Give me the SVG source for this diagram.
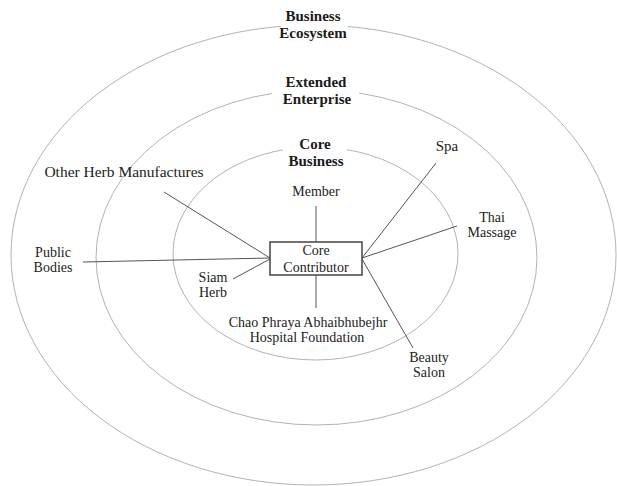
<svg xmlns="http://www.w3.org/2000/svg" width="617" height="486" viewBox="0 0 617 486">
<style>
.ring{fill:none;stroke:#a9a9a9;stroke-width:0.9}
.bg{fill:#fff;stroke:none}
.title{font-family:"Liberation Serif","Times New Roman",serif;font-weight:bold;font-size:15px;fill:#1a1a1a;text-anchor:middle}
.lbl{font-family:"Liberation Serif","Times New Roman",serif;font-size:14px;fill:#222;text-anchor:middle}
.big{font-size:15.5px}
.conn line{stroke:#555;stroke-width:1}
.box{fill:#fff;stroke:#444;stroke-width:1.5}
</style>
<rect width="617" height="486" fill="#fff"/>
<g id="rings">
<ellipse class="ring" cx="313.5" cy="255" rx="302.5" ry="230"/>
<ellipse class="ring" cx="316.5" cy="257.5" rx="220.5" ry="167.5"/>
<ellipse class="ring" cx="315.5" cy="253.5" rx="142.5" ry="106.5"/>
</g>
<g id="ring-titles">
<g id="business-ecosystem">
<rect class="bg" x="281" y="6" width="67" height="36"/>
<text class="title" x="313" y="21">Business</text>
<text class="title" x="313" y="38">Ecosystem</text>
</g>
<g id="extended-enterprise">
<rect class="bg" x="272" y="72" width="87" height="36"/>
<text class="title" x="316" y="87">Extended</text>
<text class="title" x="317" y="104">Enterprise</text>
</g>
<g id="core-business">
<rect class="bg" x="283" y="134" width="64" height="36"/>
<text class="title" x="315" y="149">Core</text>
<text class="title" x="316" y="166">Business</text>
</g>
</g>
<g id="connectors" class="conn">
<line x1="316" y1="206" x2="316" y2="242"/>
<line x1="316" y1="275" x2="316" y2="308"/>
<line x1="164" y1="192" x2="270" y2="258"/>
<line x1="83" y1="262" x2="270" y2="258"/>
<line x1="233" y1="279" x2="270" y2="259"/>
<line x1="436" y1="163" x2="362" y2="258"/>
<line x1="457" y1="226" x2="362" y2="258"/>
<line x1="413" y1="348" x2="362" y2="259"/>
</g>
<g id="core-contributor">
<rect class="box" x="270" y="242" width="92" height="33"/>
<text class="lbl" x="316" y="255">Core</text>
<text class="lbl" x="316" y="272">Contributor</text>
</g>
<g id="member"><text class="lbl" x="316" y="196">Member</text></g>
<g id="chao-phraya">
<text class="lbl" x="308" y="327">Chao Phraya Abhaibhubejhr</text>
<text class="lbl" x="307" y="342">Hospital Foundation</text>
</g>
<g id="siam-herb">
<text class="lbl" x="213" y="282">Siam</text>
<text class="lbl" x="213" y="297">Herb</text>
</g>
<g id="public-bodies">
<text class="lbl" x="53" y="257">Public</text>
<text class="lbl" x="53" y="272">Bodies</text>
</g>
<g id="other-herb"><text class="lbl big" x="124" y="176.5">Other Herb Manufactures</text></g>
<g id="spa"><text class="lbl" x="447" y="151" style="font-size:15px">Spa</text></g>
<g id="thai-massage">
<text class="lbl" x="492" y="222">Thai</text>
<text class="lbl" x="492" y="237">Massage</text>
</g>
<g id="beauty-salon">
<text class="lbl" x="429" y="362">Beauty</text>
<text class="lbl" x="429" y="377">Salon</text>
</g>
</svg>
